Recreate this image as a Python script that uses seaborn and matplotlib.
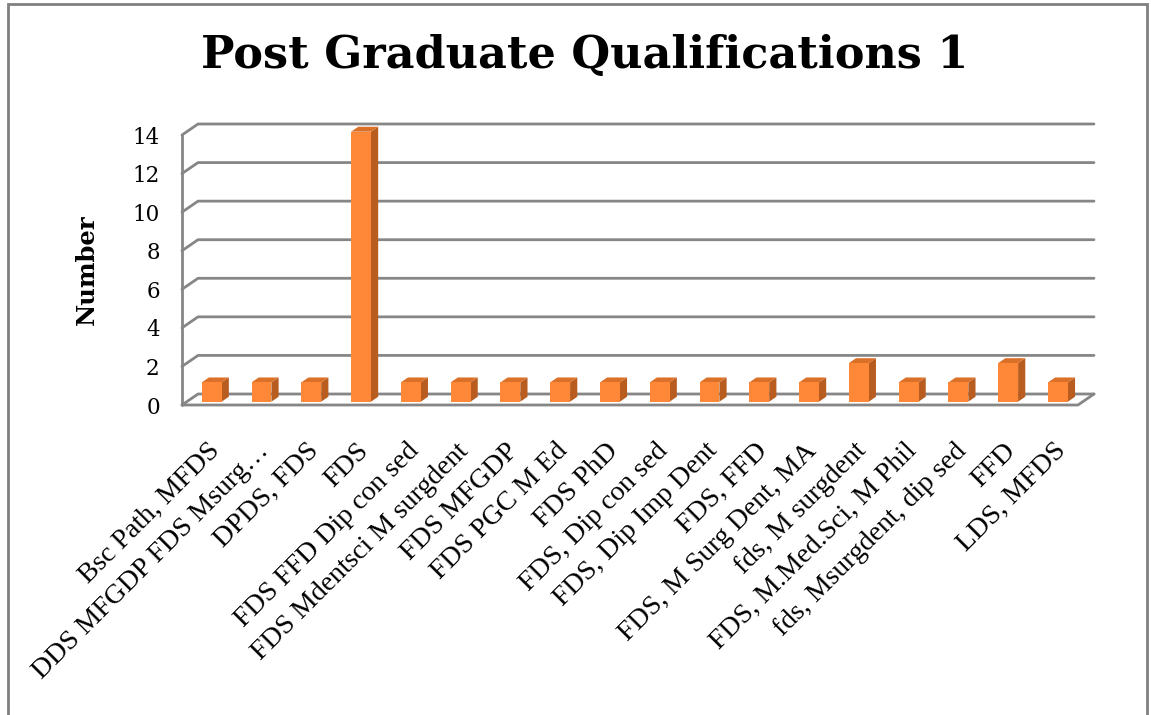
import matplotlib
matplotlib.use('Agg')
import matplotlib.pyplot as plt
import seaborn as sns
from matplotlib.patches import Polygon, Rectangle

# Data
qualifications = [
    'Bsc Path, MFDS', 'DDS MFGDP FDS Msurg…', 'DPDS, FDS', 'FDS',
    'FDS FFD Dip con sed', 'FDS Mdentsci M surgdent', 'FDS MFGDP',
    'FDS PGC M Ed', 'FDS PhD', 'FDS, Dip con sed', 'FDS, Dip Imp Dent',
    'FDS, FFD', 'FDS, M Surg Dent, MA', 'fds, M surgdent',
    'FDS, M.Med.Sci, M Phil', 'fds, Msurgdent, dip sed', 'FFD', 'LDS, MFDS',
]
counts = [1, 1, 1, 14, 1, 1, 1, 1, 1, 1, 1, 1, 1, 2, 1, 1, 2, 1]
y_ticks = [0, 2, 4, 6, 8, 10, 12, 14]

front_col = '#FF8838'
side_col = '#B85C20'
top_col = '#DB7029'
grid_col = '#868686'

sns.set_style('white')
plt.rcParams['font.family'] = ['DejaVu Serif']
plt.rcParams['text.color'] = 'black'
plt.rcParams['axes.labelcolor'] = 'black'
plt.rcParams['xtick.color'] = 'black'
plt.rcParams['ytick.color'] = 'black'

W, H = 1151, 715
fig = plt.figure(figsize=(W / 100, H / 100), dpi=100)
# front plane of the 3d box
ax = fig.add_axes([182 / W, (H - 405) / H, (1078 - 182) / W, (405 - 135) / H])

sns.barplot(x=qualifications, y=counts, color=front_col, saturation=1,
            width=0.4, ax=ax, zorder=5)
ax.set_xlim(-0.5, len(qualifications) - 0.5)
ax.set_ylim(0, 14)

# depth offsets (data units): back wall sits 16px right / 11px up
px_x = (1078 - 182) / len(qualifications)
px_y = (405 - 135) / 14
back_dx, back_dy = 16 / px_x, 11 / px_y
x_lo, x_hi = -0.5, len(qualifications) - 0.5

# back wall gridlines + left wall diagonals
for v in y_ticks:
    ax.plot([x_lo, x_lo + back_dx, x_hi + back_dx], [v, v + back_dy, v + back_dy],
            color=grid_col, lw=2, clip_on=False, zorder=1)
# left front edge and floor
ax.plot([x_lo, x_lo], [0, 14], color=grid_col, lw=2, clip_on=False, zorder=1)
ax.plot([x_lo, x_hi, x_hi + back_dx], [0, 0, back_dy],
        color=grid_col, lw=2, clip_on=False, zorder=6)

# 3d bars
f0, f1 = 0.3, 0.75
sx, sy = f0 * back_dx, f0 * back_dy
ddx, ddy = (f1 - f0) * back_dx, (f1 - f0) * back_dy
for p in ax.patches:
    x0 = p.get_x() + sx
    w = p.get_width()
    h = p.get_height()
    p.set_x(x0)
    p.set_y(sy)
    p.set_clip_on(False)
    p.set_edgecolor('none')
    x1 = x0 + w
    top = sy + h
    ax.add_patch(Polygon([(x1, sy), (x1, top), (x1 + ddx, top + ddy), (x1 + ddx, sy + ddy)],
                         closed=True, facecolor=side_col, edgecolor='none',
                         clip_on=False, zorder=4))
    ax.add_patch(Polygon([(x0, top), (x1, top), (x1 + ddx, top + ddy), (x0 + ddx, top + ddy)],
                         closed=True, facecolor=top_col, edgecolor='none',
                         clip_on=False, zorder=4))

sns.despine(ax=ax, left=True, bottom=True)
ax.set_yticks(y_ticks)
ax.set_yticklabels([str(v) for v in y_ticks], fontsize=15.5)
ax.tick_params(axis='y', length=0, pad=16)
ax.set_xticks(range(len(qualifications)))
ax.set_xticklabels(qualifications, rotation=45, ha='right',
                   rotation_mode='anchor', fontsize=20,
                   family=['Liberation Serif', 'DejaVu Serif'])
ax.tick_params(axis='x', length=0, pad=24)
ax.set_xlabel('')
ax.set_ylabel('Number', fontsize=17.5, fontweight='bold', labelpad=24)

fig.text(585 / W, 1 - 56 / H, 'Post Graduate Qualifications 1', ha='center',
         va='center', fontsize=32, fontweight='bold')

# chart area border (bottom edge is cut off in the original)
fig.patches.append(Rectangle((8 / W, -0.05), (1147 - 8) / W, 1.05 - 4 / H,
                             transform=fig.transFigure, fill=False,
                             edgecolor='#808080', lw=2))

fig.savefig('out.png', dpi=100)
